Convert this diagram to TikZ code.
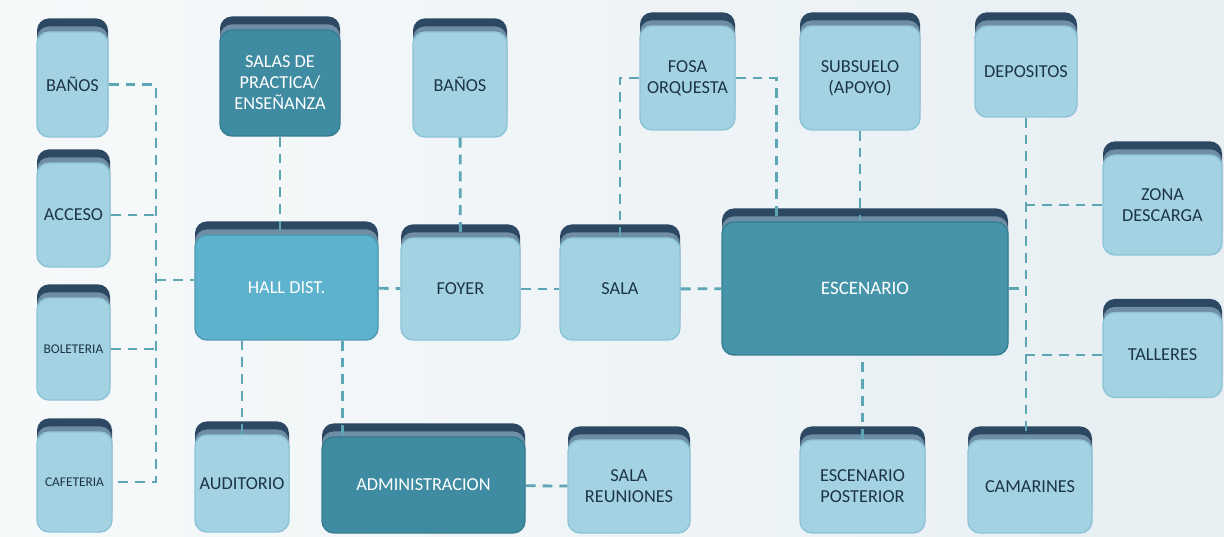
\documentclass[tikz,border=0pt]{standalone}
\usepackage{fontspec}
\setmainfont{Carlito}
\usepackage{tikz, xcolor}
\usetikzlibrary{shadows}

\definecolor{bgleft}{HTML}{F6F9FA}
\definecolor{bgright}{HTML}{E7EFF3}
\definecolor{lightfill}{HTML}{A3D3E3}
\definecolor{lightedge}{HTML}{8DC3D6}
\definecolor{hallfill}{HTML}{5DB3CD}
\definecolor{stagefill}{HTML}{4694AA}
\definecolor{darkfill}{HTML}{3F8BA1}
\definecolor{darkedge}{HTML}{367D92}
\definecolor{capdark}{HTML}{2D4862}
\definecolor{capmid}{HTML}{6F8EA6}
\definecolor{textdark}{HTML}{1D3349}
\definecolor{linecol}{HTML}{5CA6B6}

\tikzset{
  room/.style 2 args={rounded corners=0.3cm, minimum width=#1*0.025cm,
    minimum height=#2*0.025cm, inner sep=2pt, align=center,
    font=\fontsize{13}{15}\selectfont,
    copy shadow={shadow xshift=0pt, shadow yshift=0.34cm, fill=capdark, draw=none},
    copy shadow={shadow xshift=0pt, shadow yshift=0.14cm, fill=capmid, draw=none}},
  lroom/.style 2 args={room={#1}{#2}, fill=lightfill, draw=lightedge, line width=1pt, text=textdark},
  droom/.style 2 args={room={#1}{#2}, fill=darkfill, draw=darkedge, line width=1pt, text=white},
  link/.style={draw=linecol, line width=2pt, dash pattern=on 7pt off 5pt},
}

\begin{document}
\begin{tikzpicture}[x=0.025cm, y=-0.025cm]
\shade[left color=bgleft, right color=bgright] (0,0) rectangle (1224,537);
\useasboundingbox (0,0) rectangle (1224,537);

% left column
\node[lroom={71}{105}] (banos1) at (72.5,84.5) {BAÑOS};
\node[lroom={73}{104}] (acceso) at (73.5,215) {ACCESO};
\node[lroom={73}{102}, font=\fontsize{9.5}{11}\selectfont] (boleteria) at (73.5,349) {BOLETERIA};
\node[lroom={75}{100}, font=\fontsize{9.5}{11}\selectfont] (cafeteria) at (74.5,482) {CAFETERIA};

% hall and public areas
\node[droom={120}{106}] (salas) at (280,83) {SALAS DE\\PRACTICA/\\ENSEÑANZA};
\node[droom={183}{105}, fill=hallfill, draw=hallfill!85!black] (hall) at (286.5,287.5) {HALL DIST.};
\node[lroom={94}{105}] (banos2) at (460,84.5) {BAÑOS};
\node[lroom={119}{102}] (foyer) at (460.5,289) {FOYER};
\node[lroom={120}{102}] (sala) at (620,289) {SALA};
\node[lroom={95}{104}] (fosa) at (687.5,78) {FOSA\\ORQUESTA};
\node[lroom={94}{97}] (auditorio) at (242,483.5) {AUDITORIO};
\node[droom={203}{96}] (admin) at (423.5,485) {ADMINISTRACION};
\node[lroom={122}{93}] (reuniones) at (629,486.5) {SALA\\REUNIONES};

% stage
\node[droom={286}{133}, fill=stagefill, font=\fontsize{13.5}{15}\selectfont] (escenario) at (865,288.5) {ESCENARIO};
\node[lroom={120}{104}] (subsuelo) at (860,78) {SUBSUELO\\(APOYO)};
\node[lroom={102}{91}] (depositos) at (1026,71.5) {DEPOSITOS};
\node[lroom={119}{100}] (zona) at (1162.5,205) {ZONA\\DESCARGA};
\node[lroom={119}{85}] (talleres) at (1162.5,355) {TALLERES};
\node[lroom={125}{93}] (escpost) at (862.5,486.5) {ESCENARIO\\POSTERIOR};
\node[lroom={124}{93}] (camarines) at (1030,486.5) {CAMARINES};

% connectors
\coordinate (lbus) at (156,280);
\draw[link] (banos1.east) -| (lbus) |- (cafeteria.east);
\draw[link] (acceso.east) -- (acceso.east -| lbus);
\draw[link] (boleteria.east) -- (boleteria.east -| lbus);
\draw[link] (lbus) -- (lbus -| hall.west);
\draw[link] (salas.south) -- (salas.south |- hall.north);
\draw[link] (banos2) -- (foyer);
\draw[link] (hall) -- (foyer);
\draw[link] (foyer) -- (sala);
\draw[link] (sala) -- (escenario);
\draw[link] (fosa.west) -| (sala.north);
\draw[link] (fosa.east) -| ([xshift=1.375cm]escenario.north west);
\draw[link] (subsuelo.south) -- (subsuelo.south |- escenario.north);
\draw[link] (depositos.south) -- (depositos.south |- camarines.north);
\draw[link] (zona.west) -- (zona.west -| depositos.south);
\draw[link] (talleres.west) -- (talleres.west -| depositos.south);
\draw[link] (escenario.east) -- (escenario.east -| depositos.south);
\draw[link] (escpost.north) -- (escpost.north |- escenario.south);
\draw[link] (auditorio.north) -- (auditorio.north |- hall.south);
\draw[link] ([xshift=1.4cm]hall.south) -- ([xshift=1.4cm]hall.south |- admin.north);
\draw[link] (admin) -- (reuniones);
\end{tikzpicture}
\end{document}
